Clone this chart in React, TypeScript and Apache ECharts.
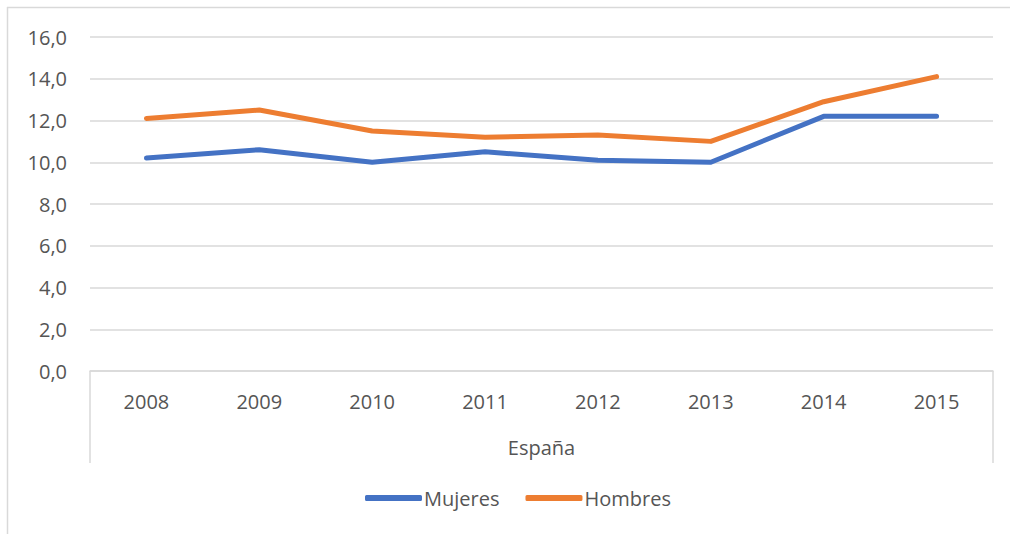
import React, { useEffect, useRef } from "react";
import * as echarts from "echarts";

const years = ["2008", "2009", "2010", "2011", "2012", "2013", "2014", "2015"];
const mujeres = [10.2, 10.6, 10.0, 10.5, 10.1, 10.0, 12.2, 12.2];
const hombres = [12.1, 12.5, 11.5, 11.2, 11.3, 11.0, 12.9, 14.1];
const groupLabel = "España";
const seriesNames = ["Mujeres", "Hombres"];
const colors = ["#4472C4", "#ED7D31"];

export default function App() {
  const ref = useRef<HTMLDivElement>(null);
  useEffect(() => {
    if (!ref.current) return;
    const chart = echarts.init(ref.current, null, { renderer: "svg" });
    const font = "'Open Sans', sans-serif";
    const gray = "#d9d9d9";
    const textColor = "#555555";
    chart.setOption({
      animation: false,
      backgroundColor: "#ffffff",
      textStyle: { fontFamily: font },
      grid: { left: 90, right: 17, top: 37, bottom: 163, containLabel: false },
      xAxis: {
        type: "category",
        data: years,
        boundaryGap: true,
        axisLine: { show: true, lineStyle: { color: gray, width: 1.5 } },
        axisTick: { show: false },
        axisLabel: { color: textColor, fontSize: 20, fontFamily: font, margin: 20 },
        name: groupLabel,
        nameLocation: "middle",
        nameGap: 66,
        nameTextStyle: { color: textColor, fontSize: 20, fontFamily: font },
        splitLine: { show: false },
      },
      yAxis: {
        type: "value",
        min: 0,
        max: 16,
        interval: 2,
        axisLine: { show: false },
        axisTick: { show: false },
        axisLabel: {
          color: textColor,
          fontSize: 20,
          fontFamily: font,
          margin: 23,
          formatter: (v: number) => v.toFixed(1).replace(".", ","),
        },
        splitLine: { show: true, lineStyle: { color: gray, width: 1.5 } },
      },
      legend: {
        top: 483,
        left: 360,
        itemWidth: 57,
        itemHeight: 6,
        itemGap: 26,
        icon: "roundRect",
        textStyle: { color: textColor, fontSize: 20, fontFamily: font, padding: [0, 0, 0, -3] },
        data: seriesNames,
      },
      series: [
        {
          name: seriesNames[0],
          type: "line",
          data: mujeres,
          symbol: "none",
          lineStyle: { color: colors[0], width: 5, cap: "round", join: "round" },
          itemStyle: { color: colors[0] },
        },
        {
          name: seriesNames[1],
          type: "line",
          data: hombres,
          symbol: "none",
          lineStyle: { color: colors[1], width: 5, cap: "round", join: "round" },
          itemStyle: { color: colors[1] },
        },
      ],
      graphic: [
        { type: "line", shape: { x1: 7.5, y1: 7, x2: 7.5, y2: 534 }, style: { stroke: gray, lineWidth: 1.5 } },
        { type: "line", shape: { x1: 7, y1: 7.5, x2: 1010, y2: 7.5 }, style: { stroke: gray, lineWidth: 1.5 } },
        { type: "line", shape: { x1: 90, y1: 371, x2: 90, y2: 463 }, style: { stroke: gray, lineWidth: 1.5 } },
        { type: "line", shape: { x1: 993, y1: 371, x2: 993, y2: 463 }, style: { stroke: gray, lineWidth: 1.5 } },
      ],
    });
    return () => chart.dispose();
  }, []);
  return (
    <div
      ref={ref}
      style={{ position: "absolute", left: 0, top: 0, width: 1010, height: 534 }}
    />
  );
}
